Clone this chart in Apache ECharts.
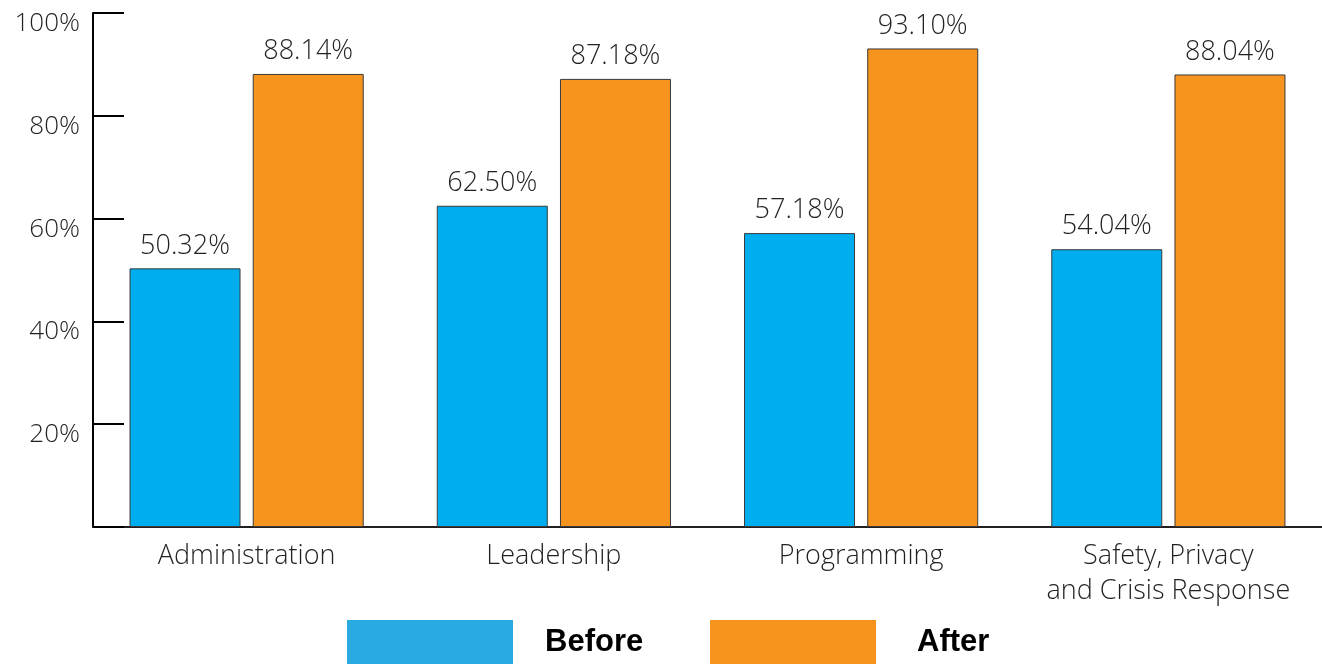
<!DOCTYPE html>
<html>
<head>
<meta charset="utf-8">
<script src="https://cdn.jsdelivr.net/npm/echarts@6/dist/echarts.min.js"></script>
<style>
html,body{margin:0;padding:0;background:#fff;}
#c{width:1322px;height:664px;}
</style>
</head>
<body>
<div id="c"></div>
<script>
const categories = ['Administration', 'Leadership', 'Programming', 'Safety, Privacy\nand Crisis Response'];
const beforeValues = [50.32, 62.50, 57.18, 54.04];
const afterValues = [88.14, 87.18, 93.10, 88.04];
const yTicks = [0, 20, 40, 60, 80, 100];

const FONT = 'Open Sans';
const W = 300;
const TXT = '#231F20';
const chart = echarts.init(document.getElementById('c'));
const labelCfg = {
  show: true, position: 'top', distance: 9,
  color: TXT, fontFamily: FONT, fontWeight: W, fontSize: 27,
  formatter: p => p.value.toFixed(2) + '%'
};
const legendText = {fontFamily: 'Liberation Sans', fontWeight: 'bold', fontSize: 31, color: '#000'};
chart.setOption({
  animation: false,
  grid: {left: 93, right: 0, top: 13, bottom: 137, containLabel: false},
  legend: [
    {data: [{name: 'Before', icon: 'rect', itemStyle: {color: '#29ABE2', borderWidth: 0}}],
     left: 347, top: 620, itemWidth: 166, itemHeight: 44, padding: 0,
     textStyle: Object.assign({padding: [0,0,0,27]}, legendText)},
    {data: [{name: 'After', icon: 'rect', itemStyle: {color: '#F7941E', borderWidth: 0}}],
     left: 710, top: 620, itemWidth: 166, itemHeight: 44, padding: 0,
     textStyle: Object.assign({padding: [0,0,0,36]}, legendText)}
  ],
  xAxis: {
    type: 'category', data: categories,
    axisLine: {lineStyle: {color: TXT, width: 2}},
    axisTick: {inside: true, length: 12, lineStyle: {color: TXT, width: 2}},
    axisLabel: {color: TXT, fontFamily: FONT, fontWeight: W, fontSize: 27, lineHeight: 35, margin: 12, interval: 0}
  },
  yAxis: {
    type: 'value', min: yTicks[0], max: yTicks[yTicks.length - 1], interval: 20,
    splitLine: {show: false},
    axisLine: {show: true, lineStyle: {color: '#000', width: 2}},
    axisTick: {show: true, inside: true, length: 31, lineStyle: {color: '#000', width: 2}},
    axisLabel: {color: TXT, fontFamily: FONT, fontWeight: W, fontSize: 26, margin: 13,
      verticalAlign: 'top', lineHeight: 21,
      formatter: v => v === 0 ? '' : v + '%'}
  },
  series: [
    {name: 'Before', type: 'bar', data: beforeValues, barWidth: 111, barGap: '11%',
     itemStyle: {color: '#00AEEF', borderColor: '#3a3a3a', borderWidth: 1}, label: labelCfg},
    {name: 'After', type: 'bar', data: afterValues, barWidth: 111,
     itemStyle: {color: '#F7941D', borderColor: '#3a3a3a', borderWidth: 1}, label: labelCfg}
  ]
});
</script>
</body>
</html>
